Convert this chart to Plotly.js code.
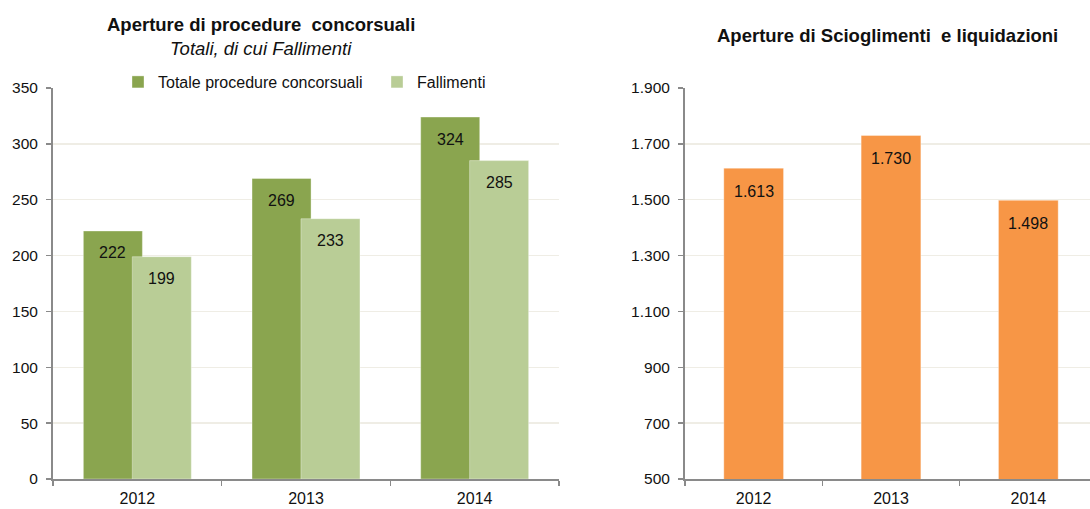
<!DOCTYPE html>
<html>
<head>
<meta charset="utf-8">
<script src="https://cdn.plot.ly/plotly-3.0.1.min.js"></script>
<style>
  html, body { margin: 0; padding: 0; background: #fff; overflow: hidden; }
  #chart { width: 1100px; height: 509px; }
</style>
</head>
<body>
<div id="chart"></div>
<script>
// ---- data ----
const years = ['2012', '2013', '2014'];
const totaleProcedure = [222, 269, 324];
const fallimenti = [199, 233, 285];
const scioglimenti = [1613, 1730, 1498];

const leftTicks = [0, 50, 100, 150, 200, 250, 300, 350];
const rightTicks = [500, 700, 900, 1100, 1300, 1500, 1700, 1900];

// ---- styles ----
const FONT = '"Liberation Sans", Arial, sans-serif';
const cDark = '#8AA54F';
const cLight = '#B9CD96';
const cOrange = '#F79646';
const gridCol = '#EFEDE5';
const axisCol = '#8A8A8A';

const W = 1100, H = 509;
const mT = 88, mB = 30;
const plotH = H - mT - mB;
const px2x = p => p / W;
const py2y = p => (H - mB - p) / plotH;

// Italian thousands separator (dot)
const fmtIt = v => v < 1000 ? String(v)
  : String(Math.floor(v / 1000)) + '.' + String(v % 1000).padStart(3, '0');

const traces = [
  {
    type: 'bar', name: 'Totale procedure concorsuali',
    x: years, y: totaleProcedure, xaxis: 'x', yaxis: 'y',
    width: 0.35, offset: -0.32,
    marker: { color: cDark, line: { color: 'rgba(255,255,255,0.35)', width: 1 } },
    hoverinfo: 'x+y'
  },
  {
    type: 'bar', name: 'Fallimenti',
    x: years, y: fallimenti, xaxis: 'x', yaxis: 'y',
    width: 0.35, offset: -0.03,
    marker: { color: cLight, line: { color: 'rgba(255,255,255,0.35)', width: 1 } },
    hoverinfo: 'x+y'
  },
  {
    type: 'bar', name: 'Scioglimenti e liquidazioni', showlegend: false,
    x: years, y: scioglimenti, xaxis: 'x2', yaxis: 'y2',
    width: 0.435,
    marker: { color: cOrange, line: { color: 'rgba(255,255,255,0.35)', width: 1 } },
    hoverinfo: 'x+y'
  }
];

const labelFont = { family: FONT, size: 16, color: '#111' };
const annotations = [];
// category axes: annotation x given as the category index (years look numeric)
years.forEach((yr, i) => {
  annotations.push({ xref: 'x', yref: 'y', x: i, y: totaleProcedure[i], text: String(totaleProcedure[i]),
    showarrow: false, xshift: -24.5, yshift: -22, xanchor: 'center', yanchor: 'middle', font: labelFont });
  annotations.push({ xref: 'x', yref: 'y', x: i, y: fallimenti[i], text: String(fallimenti[i]),
    showarrow: false, xshift: 24.5, yshift: -22, xanchor: 'center', yanchor: 'middle', font: labelFont });
  annotations.push({ xref: 'x2', yref: 'y2', x: i, y: scioglimenti[i], text: fmtIt(scioglimenti[i]),
    showarrow: false, yshift: -23, xanchor: 'center', yanchor: 'middle', font: labelFont });
});

// titles
annotations.push({ xref: 'paper', yref: 'paper', x: px2x(261), y: py2y(24), xanchor: 'center', yanchor: 'middle',
  text: '<b>Aperture di procedure  concorsuali</b>', showarrow: false,
  font: { family: FONT, size: 18.5, color: '#111' } });
annotations.push({ xref: 'paper', yref: 'paper', x: px2x(261), y: py2y(48), xanchor: 'center', yanchor: 'middle',
  text: '<i>Totali, di cui Fallimenti</i>', showarrow: false,
  font: { family: FONT, size: 18.5, color: '#111' } });
annotations.push({ xref: 'paper', yref: 'paper', x: px2x(887), y: py2y(36), xanchor: 'center', yanchor: 'middle',
  text: '<b>Aperture di Scioglimenti  e liquidazioni</b>', showarrow: false,
  font: { family: FONT, size: 18.5, color: '#111' } });

const xCommon = {
  type: 'category', tickson: 'boundaries', ticks: 'outside', ticklen: 5,
  tickcolor: axisCol, tickwidth: 1.5, showline: true, linecolor: axisCol, linewidth: 2,
  showgrid: false, zeroline: false, fixedrange: true, automargin: false,
  autorange: false, range: [-0.5, years.length - 0.5], ticklabelstandoff: 4,
  tickangle: 0, tickfont: { family: FONT, size: 16, color: '#111' }
};
const yCommon = {
  ticks: 'outside', ticklen: 5, tickcolor: axisCol, tickwidth: 1.5,
  showline: true, linecolor: axisCol, linewidth: 2,
  showgrid: true, gridcolor: gridCol, gridwidth: 1.5, zeroline: false,
  fixedrange: true, automargin: false, autorange: false, ticklabelstandoff: 5,
  tickfont: { family: FONT, size: 15.5, color: '#111' }
};

const layout = {
  width: W, height: H,
  margin: { l: 0, r: 0, t: mT, b: mB, pad: 0 },
  paper_bgcolor: '#fff', plot_bgcolor: '#fff',
  separators: ',.',
  barmode: 'overlay',
  font: { family: FONT, color: '#111' },
  showlegend: true,
  legend: {
    orientation: 'h', xref: 'paper', yref: 'paper',
    x: px2x(118), y: py2y(82), xanchor: 'left', yanchor: 'middle',
    entrywidth: 214, entrywidthmode: 'pixels',
    font: { family: FONT, size: 16, color: '#111' },
    bgcolor: 'rgba(0,0,0,0)', borderwidth: 0, traceorder: 'normal'
  },
  xaxis: Object.assign({}, xCommon, { domain: [px2x(53), px2x(559)], anchor: 'y' }),
  yaxis: Object.assign({}, yCommon, { domain: [0, 1], anchor: 'x', range: [0, 350],
    tickmode: 'array', tickvals: leftTicks, ticktext: leftTicks.map(String) }),
  xaxis2: Object.assign({}, xCommon, { domain: [px2x(685), px2x(1097)], anchor: 'y2' }),
  yaxis2: Object.assign({}, yCommon, { domain: [0, 1], anchor: 'x2', range: [500, 1900],
    tickmode: 'array', tickvals: rightTicks, ticktext: rightTicks.map(fmtIt) }),
  annotations: annotations
};

Plotly.newPlot('chart', traces, layout, { displayModeBar: false, staticPlot: true });
</script>
</body>
</html>
